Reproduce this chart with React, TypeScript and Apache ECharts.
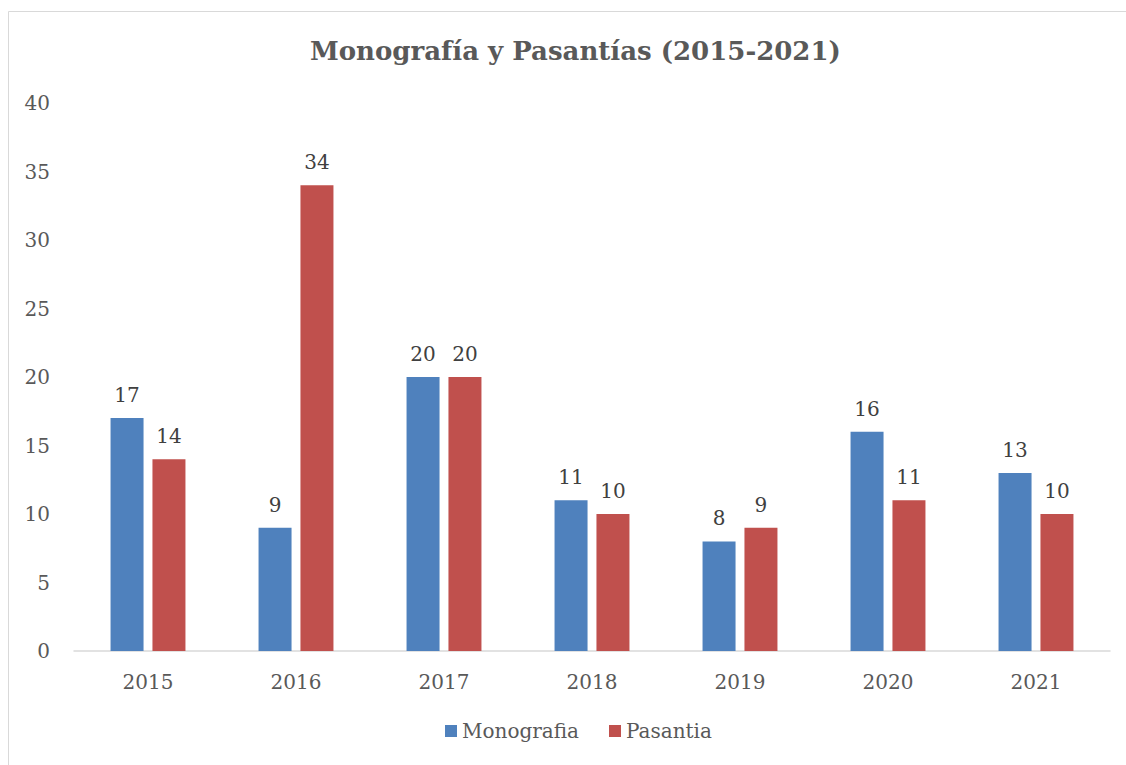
import React, { useEffect, useRef } from "react";
import * as echarts from "echarts";

const categories = ["2015", "2016", "2017", "2018", "2019", "2020", "2021"];
const monografia = [17, 9, 20, 11, 8, 16, 13];
const pasantia = [14, 34, 20, 10, 9, 11, 10];
const titleText = "Monografía y Pasantías (2015-2021)";
const seriesNames = ["Monografia", "Pasantia"];

const FONT = "'DejaVu Serif', 'Liberation Serif', serif";

export default function App() {
  const ref = useRef<HTMLDivElement>(null);
  useEffect(() => {
    if (!ref.current) return;
    const chart = echarts.init(ref.current, null, { renderer: "svg" });
    const label = {
      show: true,
      position: "top" as const,
      distance: 13,
      color: "#404040",
      fontFamily: FONT,
      fontSize: 20,
    };
    chart.setOption({
      animation: false,
      backgroundColor: "#ffffff",
      graphic: [
        {
          type: "rect",
          shape: { x: 8.5, y: 11.5, width: 1200, height: 800 },
          style: { fill: "none", stroke: "#d9d9d9", lineWidth: 1 },
          silent: true,
        },
      ],
      title: {
        text: titleText,
        left: 305,
        top: 33,
        textStyle: {
          fontFamily: FONT,
          fontSize: 26,
          fontWeight: "bold",
          color: "#595959",
        },
      },
      legend: {
        bottom: 19,
        left: 440,
        itemWidth: 12,
        itemHeight: 12,
        itemGap: 30,
        icon: "rect",
        textStyle: { fontFamily: FONT, fontSize: 20, color: "#595959" },
        data: seriesNames,
      },
      grid: { left: 74, right: 16, top: 103, bottom: 765 - 651, containLabel: false },
      xAxis: {
        type: "category",
        data: categories,
        axisLine: { show: true, lineStyle: { color: "#d9d9d9", width: 1.5 } },
        axisTick: { show: false },
        axisLabel: {
          fontFamily: FONT,
          fontSize: 20,
          color: "#595959",
          margin: 21,
        },
      },
      yAxis: {
        type: "value",
        min: 0,
        max: 40,
        interval: 5,
        axisLine: { show: false },
        axisTick: { show: false },
        splitLine: { show: false },
        axisLabel: {
          fontFamily: FONT,
          fontSize: 20,
          color: "#595959",
          margin: 24,
        },
      },
      series: [
        {
          name: seriesNames[0],
          type: "bar",
          data: monografia,
          barWidth: 33,
          barGap: "27%",
          itemStyle: { color: "#4f81bd" },
          label,
        },
        {
          name: seriesNames[1],
          type: "bar",
          data: pasantia,
          barWidth: 33,
          barGap: "27%",
          itemStyle: { color: "#c0504d" },
          label,
        },
      ],
    });
    return () => chart.dispose();
  }, []);
  return (
    <div
      ref={ref}
      style={{ position: "fixed", left: 0, top: 0, width: 1126, height: 765 }}
    />
  );
}
